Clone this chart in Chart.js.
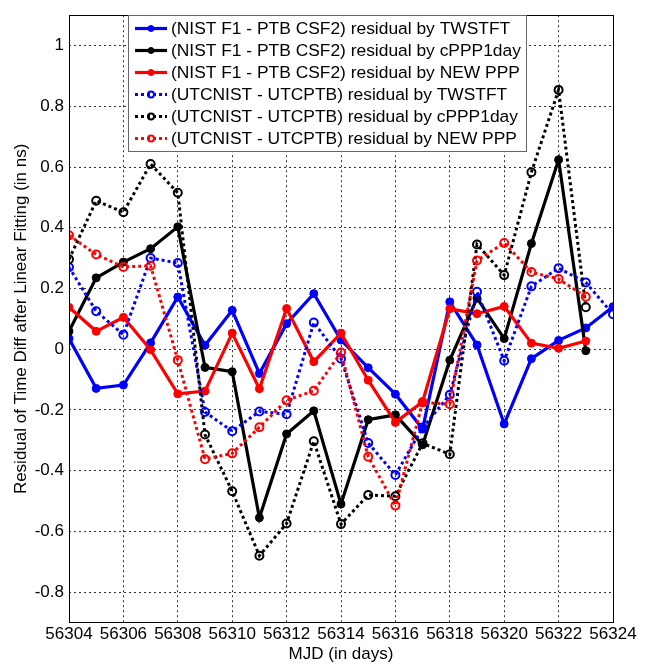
<!DOCTYPE html>
<html>
<head>
<meta charset="utf-8">
<script src="https://cdn.jsdelivr.net/npm/chart.js@4.4.1/dist/chart.umd.min.js"></script>
<style>
  html, body { margin: 0; padding: 0; background: #fff; }
  canvas { display: block; }
</style>
</head>
<body>
<canvas id="myChart" width="649" height="666"></canvas>
<script>
// MJD days
const days = [56304, 56305, 56306, 56307, 56308, 56309, 56310, 56311, 56312, 56313, 56314,
  56315, 56316, 56317, 56318, 56319, 56320, 56321, 56322, 56323, 56324];
const xTicks = [56304, 56306, 56308, 56310, 56312, 56314, 56316, 56318, 56320, 56322, 56324];
const yTicks = [-0.8, -0.6, -0.4, -0.2, 0, 0.2, 0.4, 0.6, 0.8, 1];

const seriesLabels = [
  '(NIST F1 - PTB CSF2) residual by TWSTFT',
  '(NIST F1 - PTB CSF2) residual by cPPP1day',
  '(NIST F1 - PTB CSF2) residual by NEW PPP',
  '(UTCNIST - UTCPTB) residual by TWSTFT',
  '(UTCNIST - UTCPTB) residual by cPPP1day',
  '(UTCNIST - UTCPTB) residual by NEW PPP'
];

// residuals (ns)
const nistTwstft = [0.035, -0.129, -0.118, 0.021, 0.172, 0.013, 0.128, -0.08, 0.084, 0.183, 0.03,
  -0.061, -0.148, -0.263, 0.156, 0.014, -0.246, -0.031, 0.029, 0.07, 0.14];
const nistCppp = [0.059, 0.235, 0.287, 0.331, 0.403, -0.06, -0.074, -0.555, -0.279, -0.203, -0.51,
  -0.232, -0.216, -0.315, -0.036, 0.168, 0.035, 0.348, 0.624, -0.005];
const nistNewppp = [0.138, 0.059, 0.105, -0.002, -0.147, -0.138, 0.053, -0.13, 0.134, -0.041, 0.053,
  -0.102, -0.241, -0.173, 0.133, 0.117, 0.141, 0.02, 0.003, 0.027];
const utcTwstft = [0.27, 0.125, 0.048, 0.3, 0.284, -0.207, -0.27, -0.205, -0.214, 0.088, -0.031,
  -0.309, -0.414, -0.258, -0.15, 0.189, -0.038, 0.207, 0.267, 0.22, 0.115];
const utcCppp = [0.296, 0.489, 0.451, 0.61, 0.515, -0.281, -0.468, -0.68, -0.574, -0.303, -0.576,
  -0.48, -0.484, -0.31, -0.346, 0.345, 0.244, 0.583, 0.854, 0.138];
const utcNewppp = [0.375, 0.312, 0.271, 0.275, -0.036, -0.362, -0.343, -0.257, -0.168, -0.137, -0.011,
  -0.354, -0.515, -0.175, -0.181, 0.292, 0.35, 0.254, 0.231, 0.173];

const FONT = '"Liberation Sans", Arial, sans-serif';
Chart.defaults.font.family = FONT;
Chart.defaults.font.size = 17;
Chart.defaults.color = '#000';

function toPts(vals) {
  return vals.map((v, i) => ({ x: days[i], y: v }));
}

function solid(label, vals, color, n) {
  return {
    label: label, data: toPts(vals), order: n,
    borderColor: color, borderWidth: 3.2, borderDash: [],
    pointRadius: 4, pointBackgroundColor: color, pointBorderColor: color, pointBorderWidth: 1,
    tension: 0, fill: false
  };
}
function dotted(label, vals, color, n) {
  return {
    label: label, data: toPts(vals), order: n,
    borderColor: color, borderWidth: 3, borderDash: [3, 3], borderCapStyle: 'butt',
    pointRadius: 4, pointBackgroundColor: 'rgba(0,0,0,0)', pointBorderColor: color, pointBorderWidth: 2,
    tension: 0, fill: false
  };
}

// frame + legend inside plot
const boxLegend = {
  id: 'boxLegend',
  afterDraw(chart) {
    const ctx = chart.ctx;
    const a = chart.chartArea;
    ctx.save();
    ctx.setLineDash([]);
    ctx.strokeStyle = '#000';
    ctx.lineWidth = 1;
    ctx.strokeRect(Math.round(a.left) + 0.5, Math.round(a.top) + 0.5,
      Math.round(a.right - a.left), Math.round(a.bottom - a.top));

    const bx = 128.5, by = 15.5, bw = 398, bh = 136;
    ctx.fillStyle = '#fff';
    ctx.fillRect(bx, by, bw, bh);
    ctx.strokeStyle = '#666';
    ctx.strokeRect(bx, by, bw, bh);

    chart.data.datasets.forEach((ds, i) => {
      const y = 28.5 + i * 22;
      ctx.beginPath();
      ctx.setLineDash(ds.borderDash);
      ctx.lineWidth = ds.borderWidth;
      ctx.strokeStyle = ds.borderColor;
      ctx.moveTo(135, y);
      ctx.lineTo(167, y);
      ctx.stroke();
      ctx.setLineDash([]);
      ctx.beginPath();
      ctx.arc(151, y, 3, 0, Math.PI * 2);
      ctx.fillStyle = ds.pointBackgroundColor;
      ctx.fill();
      ctx.lineWidth = ds.pointBorderWidth;
      ctx.strokeStyle = ds.pointBorderColor;
      ctx.stroke();
      ctx.fillStyle = '#000';
      ctx.font = '17.4px ' + FONT;
      ctx.textBaseline = 'middle';
      ctx.textAlign = 'left';
      ctx.fillText(ds.label, 171, y + 1);
    });
    ctx.restore();
  }
};

const ctx = document.getElementById('myChart');
new Chart(ctx, {
  type: 'line',
  data: {
    datasets: [
      solid(seriesLabels[0], nistTwstft, '#0000ff', 6),
      solid(seriesLabels[1], nistCppp, '#000000', 5),
      solid(seriesLabels[2], nistNewppp, '#ff0000', 4),
      dotted(seriesLabels[3], utcTwstft, '#0000ff', 3),
      dotted(seriesLabels[4], utcCppp, '#000000', 2),
      dotted(seriesLabels[5], utcNewppp, '#ff0000', 1)
    ]
  },
  options: {
    responsive: false,
    animation: false,
    devicePixelRatio: 1,
    layout: { padding: { left: 0, right: 36, top: 8, bottom: 0 } },
    plugins: {
      legend: { display: false },
      tooltip: { enabled: false }
    },
    scales: {
      x: {
        type: 'linear',
        min: 56304,
        max: 56324,
        afterBuildTicks: s => { s.ticks = xTicks.map(v => ({ value: v })); },
        afterFit: s => { s.height = 43.5; },
        ticks: { padding: 2, maxRotation: 0, autoSkip: false, callback: v => String(v) },
        grid: { color: '#333', lineWidth: 1, drawTicks: false },
        border: { display: false, dash: [2, 3] },
        title: { display: true, text: 'MJD (in days)', padding: { top: 0, bottom: 1 } }
      },
      y: {
        type: 'linear',
        min: -0.9,
        max: 1.1,
        afterBuildTicks: s => { s.ticks = yTicks.map(v => ({ value: v })); },
        afterFit: s => { s.width = 69; },
        ticks: { padding: 5, autoSkip: false, callback: v => String(Math.round(v * 10) / 10) },
        grid: { color: '#333', lineWidth: 1, drawTicks: false },
        border: { display: false, dash: [2, 3] },
        title: { display: true, text: 'Residual of Time Diff after Linear Fitting (in ns)', padding: { top: 11, bottom: 0 } }
      }
    }
  },
  plugins: [boxLegend]
});
</script>
</body>
</html>
